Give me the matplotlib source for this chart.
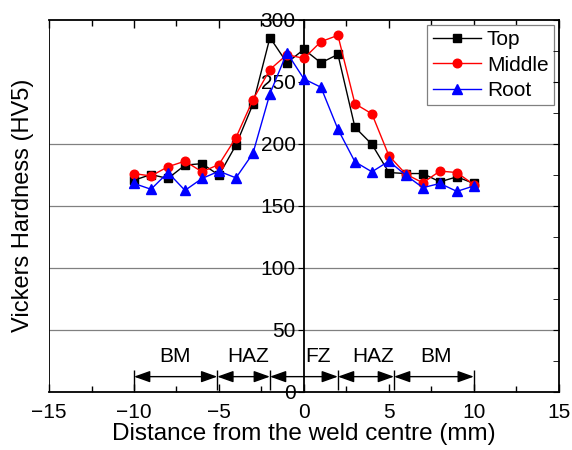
import matplotlib
matplotlib.use("Agg")
import matplotlib.pyplot as plt
from matplotlib.ticker import MultipleLocator

plt.rcParams['font.family'] = ['Liberation Sans', 'DejaVu Sans']

# Hardness traverse across the weld (HV5)
distance = [-10, -9, -8, -7, -6, -5, -4, -3, -2, -1, 0, 1, 2, 3, 4, 5, 6, 7, 8, 9, 10]
top = [170.6, 175.2, 172.0, 182.8, 184.0, 174.6, 199.0, 232.0, 285.8, 265.4, 276.3,
       265.4, 272.2, 213.4, 199.6, 176.8, 176.0, 176.0, 169.3, 173.3, 168.0]
middle = [176.0, 174.0, 181.5, 186.0, 177.4, 183.3, 205.0, 235.6, 260.0, 272.0, 269.0,
          282.5, 287.6, 232.4, 224.2, 190.4, 175.5, 168.5, 178.0, 176.8, 167.0]
root = [168.0, 163.3, 176.8, 162.4, 172.0, 177.9, 172.5, 192.3, 240.5, 273.6, 252.4,
        245.7, 211.8, 185.5, 177.4, 186.0, 174.6, 164.6, 168.0, 161.6, 166.0]

# Zone boundaries and labels
zone_bounds = [-10, -5.1, -2, 2, 5.3, 10]
zone_names = ["BM", "HAZ", "FZ", "HAZ", "BM"]
zone_label_x = [-7.6, -3.3, 0.8, 4.1, 7.8]
grid_levels = [50, 100, 150, 200]

fig = plt.figure(figsize=(5.72, 4.5), dpi=100)
ax = fig.add_axes([0.0857, 0.13, 0.8913, 0.8256])
ax.set_xlim(-15, 15)
ax.set_ylim(0, 300)

ax.hlines(grid_levels, -15, 15, colors='#808080', lw=0.9, zorder=1)

ax.plot(distance, top, color='black', marker='s', ms=5.5, lw=1.0, label='Top', zorder=3)
ax.plot(distance, middle, color='red', marker='o', ms=6.2, lw=1.0, label='Middle', zorder=3)
ax.plot(distance, root, color='blue', marker='^', ms=7, lw=1.0, label='Root', zorder=3)

# y axis drawn through x = 0; outer frame kept on the left
ax.spines['left'].set_position(('data', 0))
ax.axvline(-15, color='black', lw=1.3, zorder=4)
for s in ['top', 'right', 'bottom', 'left']:
    ax.spines[s].set_linewidth(1.3)

ax.xaxis.set_major_locator(MultipleLocator(5))
ax.xaxis.set_minor_locator(MultipleLocator(2.5))
ax.yaxis.set_major_locator(MultipleLocator(50))
ax.tick_params(axis='x', which='both', direction='in', top=True, labelsize=15,
               width=1.0, pad=8)
ax.tick_params(axis='x', which='major', length=6)
ax.tick_params(axis='x', which='minor', length=4)
ax.tick_params(axis='y', which='major', direction='out', length=4, labelsize=15,
               pad=2, right=False)

ax2 = ax.twinx()
ax2.set_ylim(0, 300)
ax2.yaxis.set_major_locator(MultipleLocator(50))
ax2.yaxis.set_minor_locator(MultipleLocator(25))
ax2.tick_params(axis='y', which='both', direction='in', labelright=False, length=4)
for s in ax2.spines.values():
    s.set_visible(False)

ax.set_xlabel('Distance from the weld centre (mm)', fontsize=17.5, labelpad=1)
ax.set_ylabel('Vickers Hardness (HV5)', fontsize=17)
ax.yaxis.set_label_coords(-0.03, 0.5, transform=ax.transAxes)

# Zone markers
ax.vlines(zone_bounds, 1, 17, colors='black', lw=1.0, zorder=3)
for a, b in zip(zone_bounds[:-1], zone_bounds[1:]):
    ax.annotate('', xy=(b, 12), xytext=(a, 12),
                arrowprops=dict(arrowstyle='<|-|>,head_length=0.7,head_width=0.25',
                                color='black', lw=1.0, shrinkA=0, shrinkB=0,
                                mutation_scale=14), zorder=3)
for name, xl in zip(zone_names, zone_label_x):
    ax.text(xl, 28, name, fontsize=15, ha='center', va='center')

leg = ax.legend(loc='upper right', fontsize=15, frameon=True, fancybox=False,
                edgecolor='#808080', framealpha=1, borderaxespad=0.25,
                handlelength=2.3, labelspacing=0.3, borderpad=0.25,
                handletextpad=0.3)
leg.get_frame().set_linewidth(0.9)

fig.savefig('out.png', dpi=100)
